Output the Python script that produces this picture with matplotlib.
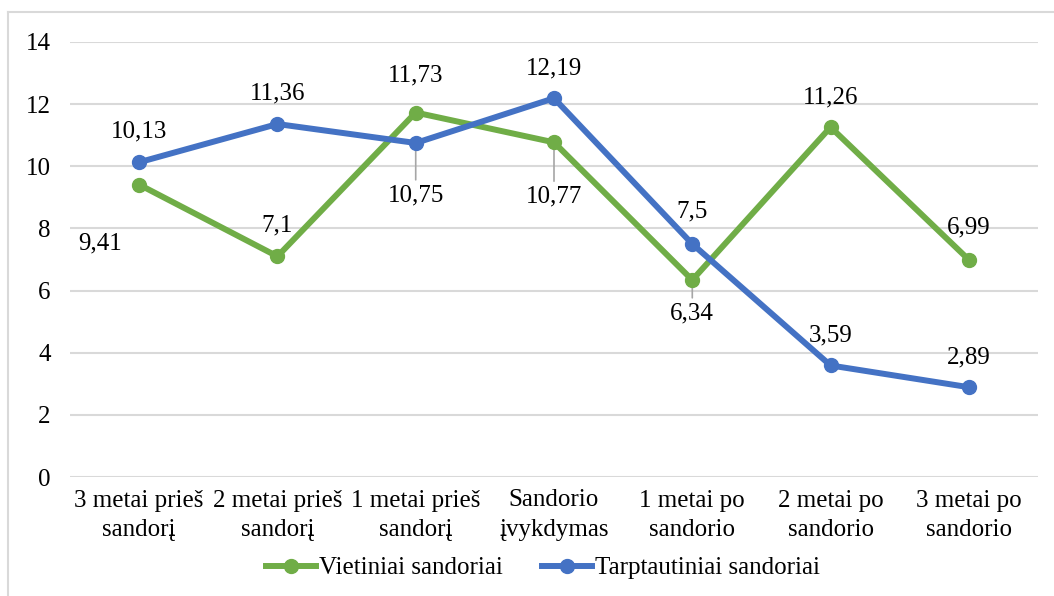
import matplotlib
matplotlib.use("Agg")
import matplotlib.pyplot as plt
from matplotlib.lines import Line2D

plt.rcParams['font.family'] = ['Liberation Serif', 'DejaVu Serif']

categories = ["3 metai prieš\nsandorį", "2 metai prieš\nsandorį", "1 metai prieš\nsandorį",
              "Sandorio\nįvykdymas", "1 metai po\nsandorio", "2 metai po\nsandorio",
              "3 metai po\nsandorio"]
vietiniai = [9.41, 7.1, 11.73, 10.77, 6.34, 11.26, 6.99]
tarptautiniai = [10.13, 11.36, 10.75, 12.19, 7.5, 3.59, 2.89]
yticks = [0, 2, 4, 6, 8, 10, 12, 14]

GREEN = "#70AD47"
BLUE = "#4472C4"
GRID = "#D9D9D9"
FS = 18

# label offsets in pixels (dx, dy) and whether a leader line is drawn
green_off = [(-39, -59, False), (0, 31, False), (0, 37, False), (0, -54, True),
             (0, -33, True), (0, 30, False), (0, 32, False)]
blue_off = [(0, 31, False), (0, 31, False), (0, -52, True), (0, 30, False),
            (0, 33, False), (0, 30, False), (0, 30, False)]

def fmt(v):
  s = f"{v:g}"
  return s.replace(".", ",")

def labels(ax, vals, offs):
  for i, (v, (dx, dy, lead)) in enumerate(zip(vals, offs)):
    kw = {}
    if lead:
      kw["arrowprops"] = dict(arrowstyle="-", color="#A6A6A6", lw=1.2, shrinkA=1, shrinkB=0)
    ax.annotate(fmt(v), (i, v), xytext=(dx, dy), textcoords="offset pixels",
                ha="center", va="center", fontsize=FS, color="#000000", zorder=1, **kw)

fig = plt.figure(figsize=(10.54, 5.96), dpi=100)
ax = fig.add_axes([70/1054, 1-477/596, 968/1054, 435/596])

x = list(range(len(categories)))
ax.plot(x, vietiniai, color=GREEN, lw=4.3, marker="o", ms=10, zorder=3,
        label="Vietiniai sandoriai", solid_joinstyle="round")
ax.plot(x, tarptautiniai, color=BLUE, lw=4.3, marker="o", ms=10, zorder=4,
        label="Tarptautiniai sandoriai", solid_joinstyle="round")
labels(ax, vietiniai, green_off)
labels(ax, tarptautiniai, blue_off)

ax.set_xlim(-0.5, len(categories) - 0.5)
ax.set_ylim(0, 14)
ax.set_yticks(yticks)
ax.set_xticks(x)
ax.set_xticklabels(categories, fontsize=FS, linespacing=1.45)
ax.tick_params(axis="y", length=0, pad=14, labelsize=FS)
ax.tick_params(axis="x", length=0, pad=9)
ax.grid(axis="y", color=GRID, lw=1.5)
ax.set_axisbelow(True)
for s in ax.spines.values():
  s.set_visible(False)

fig.legend(loc="center", bbox_to_anchor=(543/1054, 1-568/596), ncol=2, frameon=False,
           fontsize=FS, handlelength=2.0, handletextpad=0.12, columnspacing=1.6)

# chart frame (only top and left edges fall inside the image)
fig.add_artist(Line2D([8/1054, 8/1054], [0, 1-12/596], color=GRID, lw=1.5))
fig.add_artist(Line2D([8/1054, 1], [1-12/596, 1-12/596], color=GRID, lw=1.5))

fig.savefig("out.png", dpi=100)
